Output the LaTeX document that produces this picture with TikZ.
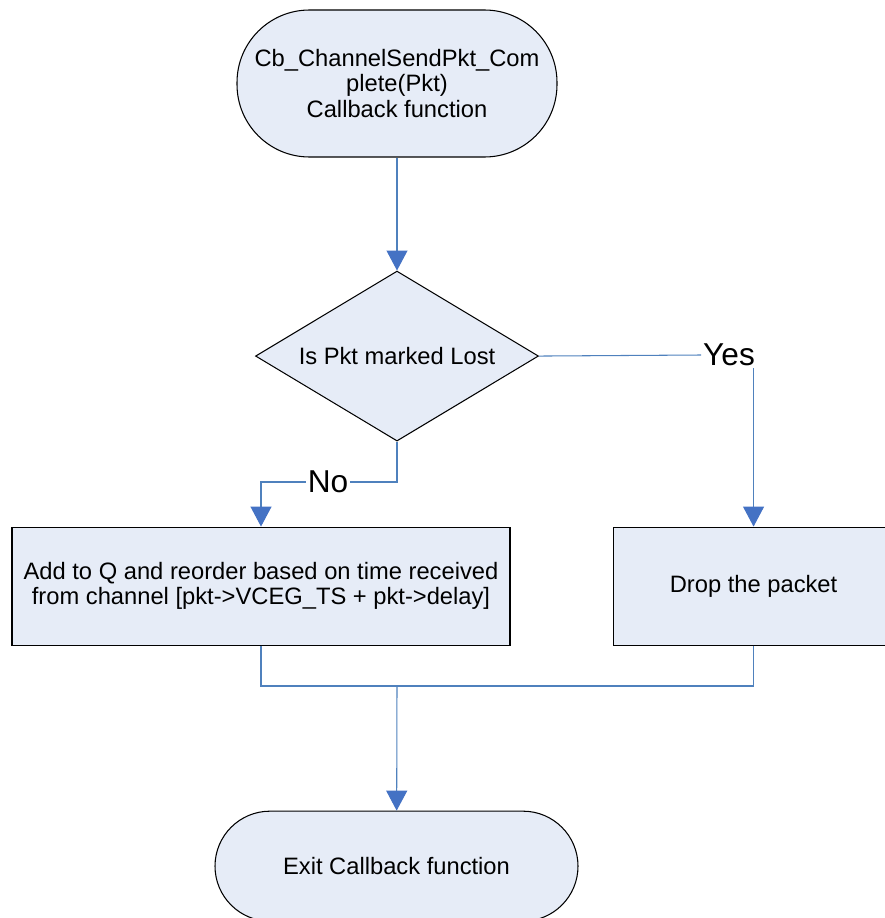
\documentclass[tikz,border=0pt]{standalone}
\usepackage{fontspec}
\setmainfont{Liberation Sans}
\usetikzlibrary{arrows.meta, positioning, shapes.geometric}
\definecolor{boxfill}{RGB}{230,236,247}
\definecolor{flowline}{RGB}{79,129,189}
\definecolor{tipblue}{RGB}{68,114,196}

\begin{document}
\begin{tikzpicture}[
    term/.style={rectangle, draw, fill=boxfill, line width=0.6pt, align=center, inner sep=0pt, font=\fontsize{13.5}{14.5}\selectfont},
    proc/.style={rectangle, draw, fill=boxfill, line width=0.6pt, align=center, inner sep=0pt, minimum height=2.36cm, font=\fontsize{13.5}{14.5}\selectfont},
    decision/.style={diamond, draw, fill=boxfill, line width=0.6pt, inner sep=0pt, shape aspect=1.66, minimum width=5.66cm, minimum height=3.4cm, font=\fontsize{13.5}{14.5}\selectfont},
    answer/.style={inner sep=1pt, font=\fontsize{18}{20}\selectfont},
    flow/.style={draw=flowline, line width=0.6pt},
    >={Triangle[length=4mm, width=4.2mm, color=tipblue]}
    ]
    \useasboundingbox (0,0) rectangle (17.7,-18.36);

    \node[term, minimum width=6.4cm, minimum height=2.94cm, rounded corners=1.45cm] (start) at (7.94,-1.67) {Cb\_ChannelSendPkt\_Com\\plete(Pkt)\\Callback function};
    \node[decision, below=2.26cm of start] (lost) {Is Pkt marked Lost};
    \node[proc, minimum width=9.96cm, below=1.7cm of lost, xshift=-2.72cm] (add) {Add to Q and reorder based on time received\\from channel [pkt->VCEG\_TS + pkt->delay]};
    \node[proc, minimum width=5.62cm, right=2.04cm of add] (drop) {Drop the packet};
    \node[term, minimum width=7.26cm, minimum height=2.2cm, rounded corners=1.1cm, below=3.3cm of add, xshift=2.71cm] (exit) {Exit Callback function};

    \node[answer] (yes) at (14.58,-7.1) {Yes};
    \node[answer] (no) at (6.56,-9.64) {No};
    \coordinate (merge) at (7.94,-13.72);

    \draw[flow, ->] (start) -- (lost);
    \draw[flow] (lost.east) -- (yes.west);
    \draw[flow, ->] (yes.south -| drop.north) -- (drop.north);
    \draw[flow] (lost.south) |- (no.east);
    \draw[flow, ->] (no.west) -| (add.north);

    \draw[flow] (add.south) |- (merge);
    \draw[flow] (drop.south) |- (merge);
    \draw[flow, ->] (merge) -- (exit);
\end{tikzpicture}
\end{document}
